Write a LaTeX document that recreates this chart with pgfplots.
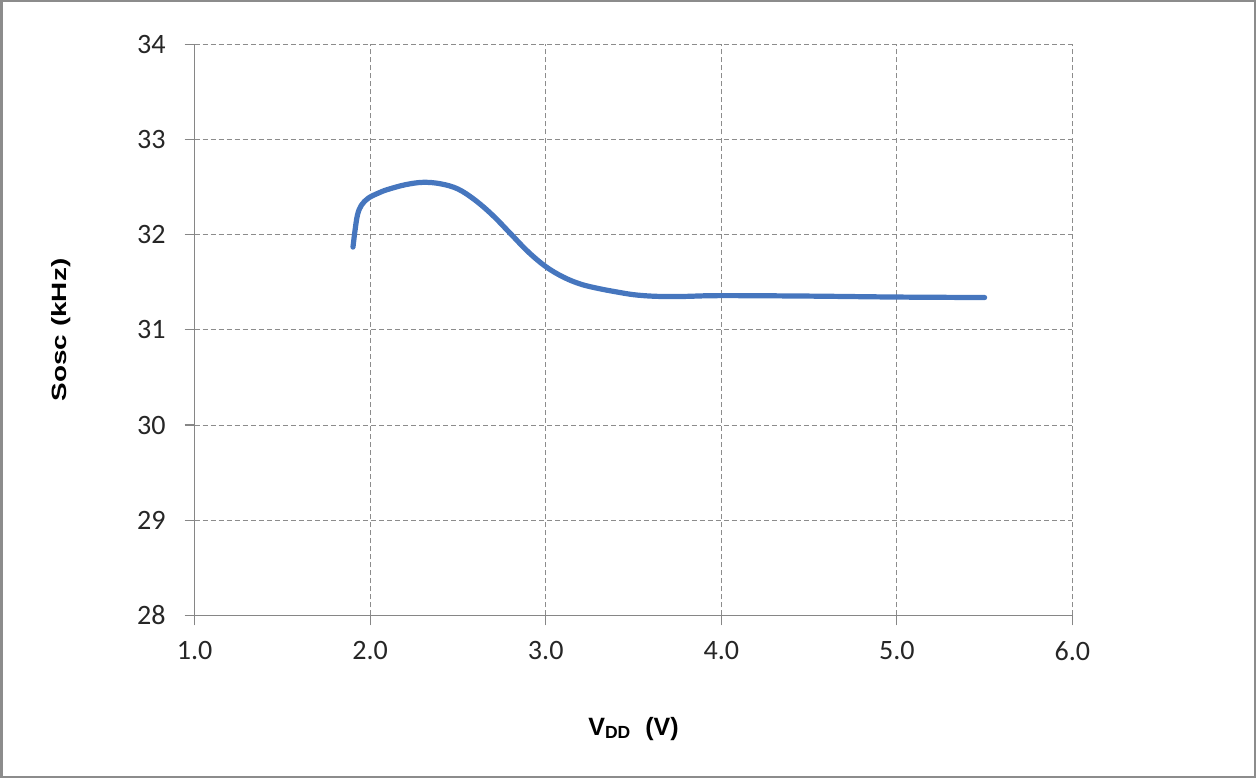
\documentclass[border=0pt]{standalone}
\usepackage{pgfplots}
\pgfplotsset{compat=1.18}
\usepackage{fontspec}
\setmainfont{Carlito}
\newfontfamily\arialfont{Liberation Sans}
\usepackage{graphicx}
\definecolor{curve}{RGB}{70,118,190}
\definecolor{gridc}{RGB}{140,140,140}
\definecolor{axc}{RGB}{134,134,134}
\definecolor{framec}{RGB}{140,140,140}
\begin{document}
\begin{tikzpicture}
\begin{axis}[
  scale only axis,
  width=438pt, height=285pt,
  xmin=1, xmax=6, ymin=28, ymax=34,
  xtick={1,2,3,4,5,6},
  ytick={28,29,30,31,32,33,34},
  xticklabel style={yshift=-4.5pt, /pgf/number format/.cd,fixed,fixed zerofill,precision=1},
  /pgf/number format/assume math mode=true,
  ticklabel style={font=\fontsize{14}{16}\selectfont, text=black!85},
  yticklabel style={xshift=-6pt},
  axis lines*=left,
  axis line style={draw=axc, line width=0.6pt, -},
  tick align=outside,
  major tick length=5pt,
  tick style={draw=axc, line width=0.6pt},
  grid=major,
  major grid style={draw=gridc, dashed, line width=0.5pt, dash pattern=on 2.5pt off 1.5pt},
  xlabel={\arialfont\bfseries\fontsize{12.5}{14}\selectfont V\textsubscript{DD}\ \ (V)},
  xlabel style={at={(axis description cs:0.5,-0.198)}, anchor=center},
  ylabel={\scalebox{1.35}[1.0]{\arialfont\bfseries\fontsize{10.3}{12}\selectfont Sosc (kHz)}},
  ylabel style={at={(axis description cs:-0.152,0.5)}, anchor=center, rotate=0},
  clip=false,
]
\addplot[curve, line width=2.6pt, smooth, tension=0.6, line join=round, line cap=round] coordinates {
(1.902,31.87) (1.914,32.05) (1.928,32.21) (1.95,32.31) (1.99,32.385)
(2.05,32.44) (2.1,32.475) (2.2,32.525) (2.3,32.55) (2.4,32.535)
(2.5,32.48) (2.6,32.36) (2.7,32.20) (2.8,32.01) (2.9,31.82)
(3.0,31.665) (3.1,31.555) (3.2,31.48) (3.3,31.435) (3.4,31.40)
(3.5,31.37) (3.6,31.355) (3.7,31.35) (3.8,31.352) (4.0,31.36)
(4.5,31.355) (5.0,31.345) (5.5,31.34)
};
\coordinate (sw) at (rel axis cs:0,0);
\coordinate (ne) at (rel axis cs:1,1);
\end{axis}
\draw[framec, line width=1.25pt] ([shift={(-96.5pt,-80.5pt)}]sw) rectangle ([shift={(91pt,21.5pt)}]ne);
\end{tikzpicture}
\end{document}
